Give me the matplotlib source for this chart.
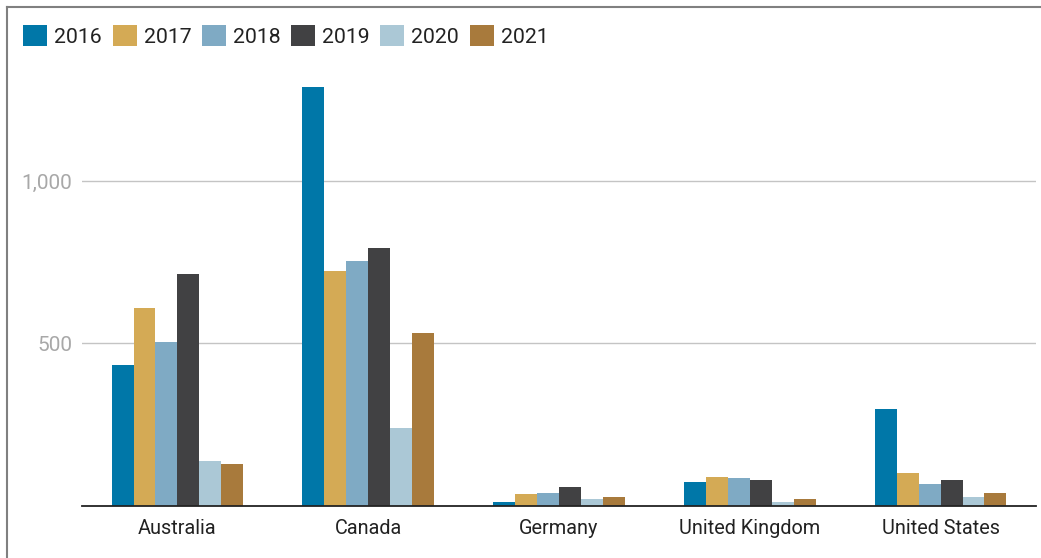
import matplotlib
matplotlib.use('Agg')
import matplotlib.pyplot as plt
from matplotlib.lines import Line2D
import numpy as np

plt.rcParams['font.family'] = ['Roboto', 'DejaVu Sans']

countries = ['Australia', 'Canada', 'Germany', 'United Kingdom', 'United States']
years = ['2016', '2017', '2018', '2019', '2020', '2021']
v2016 = [435, 1290, 12, 74, 298]
v2017 = [610, 724, 37, 89, 101]
v2018 = [506, 755, 40, 86, 67]
v2019 = [715, 794, 58, 80, 80]
v2020 = [138, 239, 21, 12, 28]
v2021 = [129, 531, 28, 21, 40]
series = [v2016, v2017, v2018, v2019, v2020, v2021]
colors = ['#0077A8', '#D4AA55', '#7FAAC4', '#414143', '#ABC8D6', '#A87A3C']

W, H = 1041, 558
fig = plt.figure(figsize=(W / 100, H / 100), dpi=100)
ax = fig.add_axes([82 / W, (H - 506) / H, (1036 - 82) / W, (506 - 60) / H])

x = np.arange(len(countries))
width = 0.115
for i, (vals, c) in enumerate(zip(series, colors)):
    ax.bar(x + (i - 2.5) * width, vals, width, color=c, label=years[i], zorder=3)

ax.set_xlim(-0.5, len(countries) - 0.5)
ax.set_ylim(0, 1372)
ax.set_yticks([500, 1000])
ax.set_yticklabels(['500', '1,000'])
ax.set_xticks(x)
ax.set_xticklabels(countries)
ax.tick_params(axis='y', length=0, pad=7, labelsize=15, labelcolor='#a8a8a8')
ax.tick_params(axis='x', length=0, pad=9.5, labelsize=14.3, labelcolor='#222222')
ax.grid(axis='y', color='#c4c4c4', linewidth=1, zorder=0)
for s in ['top', 'right', 'left']:
    ax.spines[s].set_visible(False)
ax.spines['bottom'].set_color('#222222')
ax.spines['bottom'].set_linewidth(1.3)
ax.spines['bottom'].set_zorder(4)

fig.legend(loc='upper left', bbox_to_anchor=(4 / W, 1 - 6 / H), ncol=6,
           frameon=False, fontsize=15.3, handlelength=1.13, handleheight=1.13,
           handletextpad=0.33, columnspacing=0.5, labelcolor='#222222')

# outer frame (left and top edges)
fig.add_artist(Line2D([7 / W, 7 / W], [0, 1 - 7 / H], color='#808080', linewidth=1.5))
fig.add_artist(Line2D([7 / W, 1], [1 - 7 / H, 1 - 7 / H], color='#808080', linewidth=1.5))

fig.savefig('out.png', dpi=100)
plt.close(fig)
